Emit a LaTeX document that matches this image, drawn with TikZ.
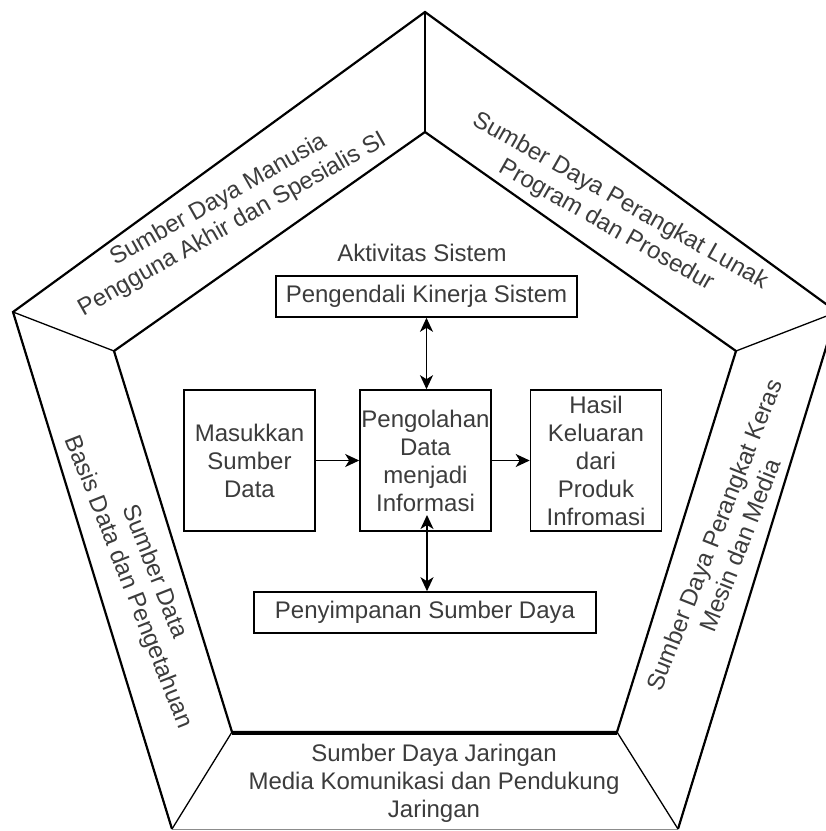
\documentclass[tikz,border=0pt]{standalone}
\usepackage{fontspec}
\setmainfont{Liberation Sans}
\usetikzlibrary{arrows.meta}
\definecolor{txt}{RGB}{60,60,60}
\begin{document}
\begin{tikzpicture}[x=1pt,y=-1pt,
  every node/.style={font=\fontsize{24}{28}\selectfont, text=txt},
  box/.style={draw=black, line width=1.6pt, inner sep=0pt, align=center},
  lbl/.style={align=center, inner sep=0pt},
  edge/.style={line width=2.2pt, line join=miter},
  spoke/.style={line width=1.3pt},
  arr/.style={line width=1.6pt, -{Stealth[length=14pt,width=13pt,inset=4pt]}},
  darr/.style={line width=1.6pt, {Stealth[length=14pt,width=13pt,inset=4pt]}-{Stealth[length=14pt,width=13pt,inset=4pt]}}
]
\useasboundingbox (0,0) rectangle (826,831);
\clip (0,0) rectangle (826,831);
\fill[white] (0,0) rectangle (826,831);

% outer pentagon vertices
\coordinate (oT) at (425,12);
\coordinate (oL) at (13,312);
\coordinate (oR) at (837,312);
\coordinate (oBL) at (172,829);
\coordinate (oBR) at (678,829);
% inner pentagon vertices
\coordinate (iT) at (425,132);
\coordinate (iL) at (114,351);
\coordinate (iR) at (736,351);
\coordinate (iBL) at (232,732);
\coordinate (iBR) at (617,732);

\draw[edge] (oBL) -- (oL) -- (oT) -- (oR) -- (oBR);
\draw[line width=0.8pt, black!45] (oBL) -- (oBR);
\draw[edge] (iT) -- (iL) -- (iBL) -- (iBR) -- (iR) -- cycle;
\draw[line width=1.8pt] ([yshift=-2pt]iBL) -- ([yshift=-2pt]iBR);

\draw[spoke] (oT) -- (iT);
\draw[spoke] (oL) -- (iL);
\draw[spoke] (oR) -- (iR);
\draw[spoke] (oBL) -- (iBL);
\draw[spoke] (oBR) -- (iBR);

% labels in the frame
\node[lbl, rotate=29.5] (lTL) at (225.5,212.5) {Sumber Daya Manusia\\Pengguna Akhir dan Spesialis SI};
\node[lbl, rotate=-29.5] (lTR) at (613,213.5) {Sumber Daya Perangkat Lunak\\Program dan Prosedur};
\node[lbl, rotate=-68.5] (lL) at (141,577) {Sumber Data\\Basis Data dan Pengetahuan};
\node[lbl, rotate=68.5] (lR) at (727,540) {Sumber Daya Perangkat Keras\\Mesin dan Media};
\node[lbl] (lB) at (434,783) {Sumber Daya Jaringan\\Media Komunikasi dan Pendukung\\Jaringan};

% inner activity
\node[lbl] (akt) at (422,253) {Aktivitas Sistem};
\node[box, minimum width=301pt, minimum height=41pt] (pengendali) at (426.5,296.5) {Pengendali Kinerja Sistem};
\node[box, text width=131pt, minimum height=141pt] (masukkan) at (249.5,460.5) {Masukkan\\Sumber\\Data};
\node[box, text width=131pt, minimum height=141pt] (pengolahan) at (425.5,460.5) {Pengolahan\\Data\\menjadi\\Informasi};
\node[box, text width=131pt, minimum height=141pt] (hasil) at (596,460.5) {Hasil\\Keluaran\\dari\\Produk\\Infromasi};
\node[box, minimum width=342pt, minimum height=41pt] (penyimpanan) at (425,612.5) {Penyimpanan Sumber Daya};

\draw[darr] (pengendali.south) -- (pengendali.south |- pengolahan.north);
\coordinate (bt) at (427,515);
\draw[darr] (bt) -- (bt |- penyimpanan.north);
\draw[arr] (masukkan.east) -- (pengolahan.west);
\draw[arr] (pengolahan.east) -- (hasil.west);
\end{tikzpicture}
\end{document}
